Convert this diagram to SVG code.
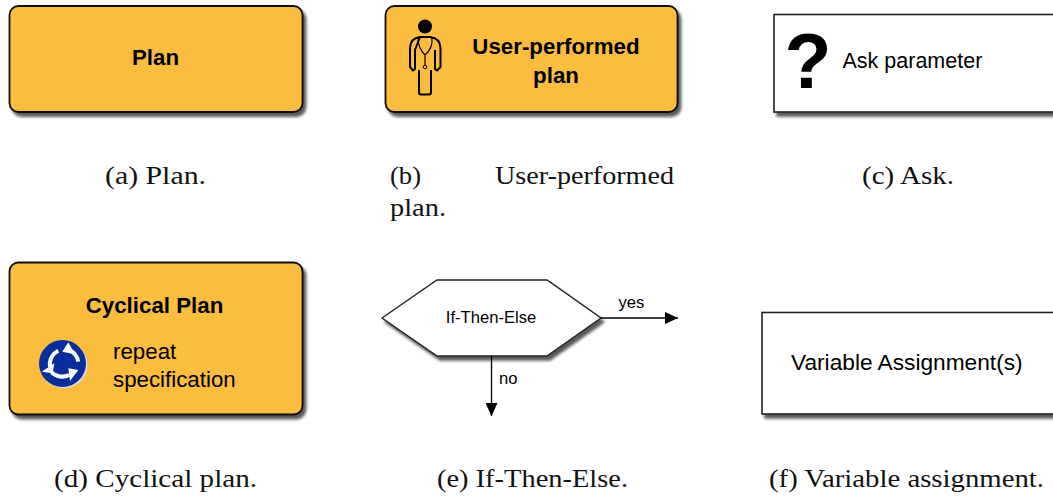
<svg xmlns="http://www.w3.org/2000/svg" width="1053" height="496" viewBox="0 0 1053 496">
<style>
.box{fill:#fbbd41;stroke:#111;stroke-width:1.8}
.wbox{fill:#fff;stroke:#222;stroke-width:1.6}
.s{font-family:"Liberation Sans",Arial,sans-serif;fill:#000}
.b{font-weight:bold;font-size:22.3px;text-anchor:middle}
.cap{font-family:"Liberation Serif","Times New Roman",serif;font-size:25px;fill:#111}
.ln{fill:none;stroke:#000;stroke-width:1.3}
.ic{fill:none;stroke:#000;stroke-width:2}
</style>
<defs>
<filter id="sh" x="-10%" y="-15%" width="125%" height="135%"><feGaussianBlur in="SourceAlpha" stdDeviation="1.8"/><feOffset dx="3" dy="3.500"/><feComponentTransfer><feFuncA type="linear" slope="0.65"/></feComponentTransfer><feMerge><feMergeNode/><feMergeNode in="SourceGraphic"/></feMerge></filter>
<marker id="ah" markerUnits="userSpaceOnUse" markerWidth="14" markerHeight="12" refX="13" refY="6" orient="auto"><path d="M0 0L13 6L0 12Z" fill="#000"/></marker>
</defs>
<g id="plan">
<rect class="box" x="9.500" y="6" width="293" height="106" rx="9" filter="url(#sh)"/>
<text class="s b" x="155.500" y="64.500">Plan</text>
</g>
<g id="user-plan">
<rect class="box" x="385.500" y="6" width="292" height="106" rx="9" filter="url(#sh)"/>
<circle cx="425" cy="26.500" r="7" fill="#000"/>
<path class="ic" d="M420 37H430Q440 38 440.500 48V67L437 70.500L435 69V50M431 70V92Q431 94.500 429 94.500H421Q419 94.500 419 92V70M415 50V69L413 70.500L410 67V48Q410.500 38 420 37Z" stroke-linejoin="round"/>
<path d="M418 38Q418 48 425 55V65M432 38Q433 48 425 55" fill="none" stroke="#000" stroke-width="1.200"/>
<circle cx="425" cy="67" r="1.800" fill="none" stroke="#000" stroke-width="1"/>
<text class="s b" x="556" y="53.500">User-performed</text>
<text class="s b" x="556" y="82.500">plan</text>
</g>
<g id="ask">
<rect class="wbox" x="774" y="14.500" width="290" height="97.500" filter="url(#sh)"/>
<text class="s" x="784.500" y="87.500" font-size="77" font-weight="bold">?</text>
<text class="s" x="842.500" y="68" font-size="21.500">Ask parameter</text>
</g>
<g id="cyclical-plan">
<rect class="box" x="9.500" y="262.500" width="293" height="152" rx="9" filter="url(#sh)"/>
<text class="s b" x="154.500" y="313">Cyclical Plan</text>
<circle cx="63" cy="364" r="23.500" fill="#d9dce8" transform="translate(0.800 0.800)"/>
<circle cx="62.500" cy="363.500" r="23.500" fill="#0a2d9c"/>
<g fill="none" stroke="#fff" stroke-width="4">
<path d="M78.300 361.700A16 16 0 0 0 69 350"/>
<path d="M58.300 350.700A15 15 0 0 0 50 366.700"/>
<path d="M51.700 372.300A15 15 0 0 0 69 375"/>
</g>
<g fill="#fff">
<path d="M68.300 342.300L75 354.300L62.300 351.700Z"/>
<path d="M41.700 371.700L54.300 363.300L52.700 373.300Z"/>
<path d="M78.300 370L68.300 368.300L70 381Z"/>
</g>
<text class="s" x="113" y="359" font-size="22.300">repeat</text>
<text class="s" x="113" y="387" font-size="22.300">specification</text>
</g>
<g id="if-then-else">
<path d="M382 318L437 280H547L601 318L547 356H437Z" fill="#fff" stroke="#222" stroke-width="1.400" filter="url(#sh)"/>
<text class="s" x="491" y="323" font-size="16.600" text-anchor="middle">If-Then-Else</text>
</g>
<g id="variable-assignment">
<rect class="wbox" x="762" y="312.500" width="300" height="101.500" filter="url(#sh)"/>
<text class="s" x="791" y="369.500" font-size="22.700">Variable Assignment(s)</text>
</g>
<g id="connectors">
<path class="ln" d="M601 318H678" marker-end="url(#ah)"/>
<path class="ln" d="M491.500 356V416" marker-end="url(#ah)"/>
<text class="s" x="618.500" y="308" font-size="16.600">yes</text>
<text class="s" x="499" y="384" font-size="16.600">no</text>
</g>
<g id="captions">
<text class="cap" x="105" y="183.500" textLength="101" lengthAdjust="spacingAndGlyphs">(a) Plan.</text>
<text class="cap" x="390" y="183.500" textLength="31" lengthAdjust="spacingAndGlyphs">(b)</text>
<text class="cap" x="495" y="183.500" textLength="179" lengthAdjust="spacingAndGlyphs">User-performed</text>
<text class="cap" x="390" y="215.500" textLength="56" lengthAdjust="spacingAndGlyphs">plan.</text>
<text class="cap" x="862" y="183.500" textLength="92" lengthAdjust="spacingAndGlyphs">(c) Ask.</text>
<text class="cap" x="54" y="486.500" textLength="203" lengthAdjust="spacingAndGlyphs">(d) Cyclical plan.</text>
<text class="cap" x="437" y="486.500" textLength="191" lengthAdjust="spacingAndGlyphs">(e) If-Then-Else.</text>
<text class="cap" x="769" y="486.500" textLength="275" lengthAdjust="spacingAndGlyphs">(f) Variable assignment.</text>
</g>
</svg>
